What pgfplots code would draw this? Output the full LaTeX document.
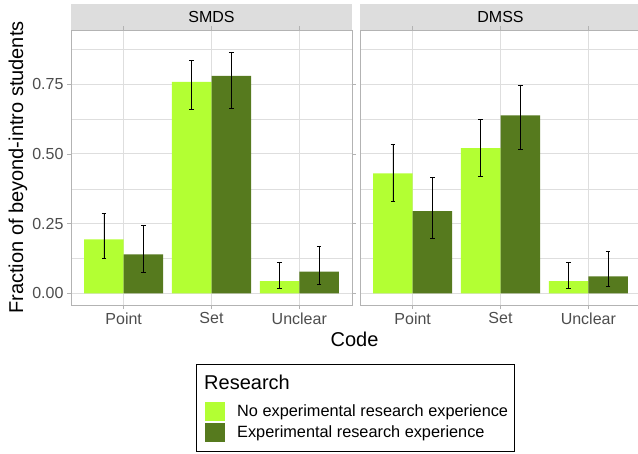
\documentclass[border=0pt]{standalone}
\usepackage{fontspec}
\setmainfont{Liberation Sans}
\usepackage{pgfplots}
\usepackage{pgfplotstable}
\pgfplotsset{compat=1.18}

\definecolor{lightg}{HTML}{B3FF33}
\definecolor{darkg}{HTML}{567A1E}
\definecolor{grid87}{HTML}{DEDEDE}
\definecolor{grey70}{HTML}{B3B3B3}
\definecolor{grey30}{HTML}{4D4D4D}
\definecolor{stripg}{HTML}{DDDDDD}

% columns: code position, fraction, lower and upper end of error bar
\pgfplotstableread{
x y lo hi
1 0.194 0.124 0.287
2 0.759 0.661 0.837
3 0.044 0.017 0.110
}\smdsno
\pgfplotstableread{
x y lo hi
1 0.140 0.075 0.245
2 0.780 0.664 0.863
3 0.078 0.032 0.170
}\smdsyes
\pgfplotstableread{
x y lo hi
1 0.430 0.331 0.536
2 0.521 0.418 0.624
3 0.044 0.017 0.110
}\dmssno
\pgfplotstableread{
x y lo hi
1 0.295 0.197 0.417
2 0.639 0.517 0.746
3 0.061 0.024 0.149
}\dmssyes

\newcommand{\fs}[1]{\fontsize{#1bp}{1.2\dimexpr#1bp\relax}\selectfont}

\pgfplotsset{
  facet/.style={
    scale only axis, width=281bp, height=275bp,
    xmin=0.4, xmax=3.6, ymin=-0.042, ymax=0.945,
    xtick={1,2,3}, xticklabels={Point,Set,Unclear},
    ytick={0,0.25,0.5,0.75},
    minor ytick={0.125,0.375,0.625,0.875},
    yticklabel style={/pgf/number format/.cd, fixed, fixed zerofill, precision=2},
    /pgf/number format/assume math mode=true,
    grid=both,
    major grid style={draw=grid87, line width=1bp},
    minor grid style={draw=grid87, line width=0.5bp},
    axis line style={draw=grey70, line width=0.9bp},
    tick align=outside, major tick length=4bp, minor tick length=0pt,
    tick style={draw=grey70, line width=0.9bp},
    tick label style={font=\fs{16}, text=grey30},
    ybar, bar width=0.45,
    error bars/y dir=both, error bars/y explicit,
    error bars/error mark=|,
    error bars/error bar style={black, line width=0.8bp},
    error bars/error mark options={black, line width=0.8bp, mark size=2.3bp},
  },
}

\begin{document}
\begin{tikzpicture}
\useasboundingbox (0bp,0bp) rectangle (638bp,-454bp);

% facet strips
\fill[stripg] (71bp,-4bp) rectangle (352bp,-30bp);
\node[font=\fs{16}] at (211.5bp,-17bp) {SMDS};
\fill[stripg] (360bp,-4bp) rectangle (641bp,-30bp);
\node[font=\fs{16}] at (500.5bp,-17bp) {DMSS};

\begin{axis}[facet, at={(71bp,-305bp)}, anchor=south west,
  ylabel={Fraction of beyond-intro students},
  ylabel style={font=\fs{20}, at={(axis description cs:-0.1886,0.5)}, anchor=center},
  xlabel={Code},
  xlabel style={font=\fs{20}, at={(axis description cs:1.009,-0.1236)}, anchor=center},
  legend style={draw=none, fill=none, at={(axis description cs:0.4769,-0.3527)},
    anchor=north west, inner sep=0pt, row sep=2bp, font=\fs{16.3},
    nodes={inner xsep=0bp}, /tikz/column 2/.style={anchor=west, nodes={inner xsep=12bp}}},
  legend cell align=left,
]
\addplot[fill=lightg, draw=none, bar shift=-0.225,
  legend image code/.code={\fill[lightg] (0bp,-9.5bp) rectangle (20bp,9.5bp);}]
  table[x=x, y=y, y error plus expr=\thisrow{hi}-\thisrow{y},
        y error minus expr=\thisrow{y}-\thisrow{lo}] {\smdsno};
\addlegendentry{No experimental research experience}
\addplot[fill=darkg, draw=none, bar shift=0.225,
  legend image code/.code={\fill[darkg] (0bp,-9.5bp) rectangle (20bp,9.5bp);}]
  table[x=x, y=y, y error plus expr=\thisrow{hi}-\thisrow{y},
        y error minus expr=\thisrow{y}-\thisrow{lo}] {\smdsyes};
\addlegendentry{Experimental research experience}
\end{axis}

\begin{axis}[facet, at={(360bp,-305bp)}, anchor=south west,
  yticklabels={}, y tick style={draw=none}]
\addplot[fill=lightg, draw=none, bar shift=-0.225]
  table[x=x, y=y, y error plus expr=\thisrow{hi}-\thisrow{y},
        y error minus expr=\thisrow{y}-\thisrow{lo}] {\dmssno};
\addplot[fill=darkg, draw=none, bar shift=0.225]
  table[x=x, y=y, y error plus expr=\thisrow{hi}-\thisrow{y},
        y error minus expr=\thisrow{y}-\thisrow{lo}] {\dmssyes};
\end{axis}

% legend frame and title
\draw[black, line width=0.8bp] (196.5bp,-364bp) rectangle (514.5bp,-451.5bp);
\node[font=\fs{20}, anchor=west, inner sep=0pt] at (204bp,-382bp) {Research};
\end{tikzpicture}
\end{document}
